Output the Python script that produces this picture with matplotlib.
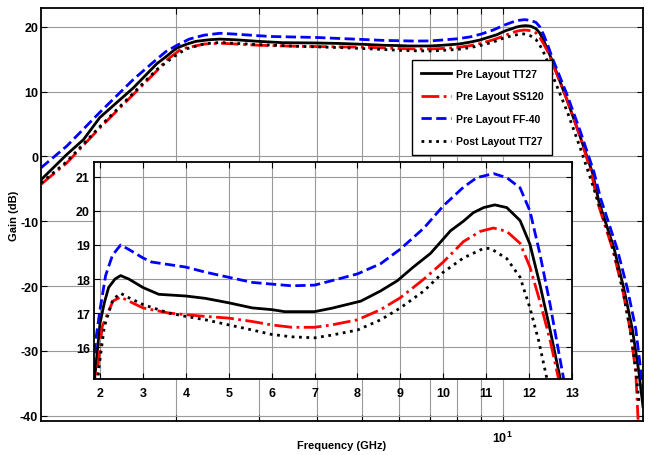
import matplotlib
matplotlib.use('Agg')
import matplotlib.pyplot as plt
from matplotlib.ticker import FixedLocator, NullFormatter

plt.rcParams['font.family'] = ['Liberation Sans Narrow', 'Liberation Sans', 'DejaVu Sans']
plt.rcParams['font.weight'] = 'bold'
plt.rcParams['mathtext.fontset'] = 'custom'
plt.rcParams['mathtext.rm'] = 'Liberation Sans:bold'
plt.rcParams['mathtext.bf'] = 'Liberation Sans:bold'

# ---------------- data (frequency in GHz, gain in dB) ----------------
labels = ['Pre Layout TT27', 'Pre Layout SS120', 'Pre Layout FF-40', 'Post Layout TT27']

f_tt27 = [1.025, 1.164, 1.264, 1.37, 1.618, 1.815, 1.9, 2.0, 2.1, 2.2, 2.35, 2.48, 2.67, 3.0,
          3.37, 4.0, 4.46, 5.0, 5.55, 6.0, 6.3, 7.0, 7.4, 8.08, 8.54, 8.93, 9.3, 9.7, 10.17,
          10.47, 10.7, 10.94, 11.2, 11.48, 11.79, 12.02, 12.25, 12.49, 12.72, 13.7, 14.6,
          15.6, 16.09, 17.34, 18.2, 18.97, 19.6, 20.0]
g_tt27 = [-3.6, 0.3, 2.6, 6.0, 10.6, 14.3, 15.4, 16.7, 17.3, 17.75, 18.0, 18.1, 18.0, 17.75,
          17.55, 17.5, 17.43, 17.3, 17.15, 17.1, 17.04, 17.04, 17.14, 17.35, 17.65, 17.95,
          18.35, 18.75, 19.42, 19.7, 19.95, 20.1, 20.18, 20.1, 19.72, 19.02, 17.85, 16.5,
          15.1, 9.0, 3.5, -2.6, -7.0, -14.2, -20.4, -26.6, -33.3, -38.6]

f_ss120 = [1.025, 1.164, 1.37, 1.618, 1.815, 1.9, 2.05, 2.3, 2.48, 2.67, 3.0, 3.6, 4.0, 4.46,
           5.0, 5.55, 6.0, 6.47, 7.0, 7.4, 8.0, 8.54, 9.0, 9.55, 10.0, 10.47, 10.86, 11.17,
           11.48, 11.79, 12.02, 12.25, 12.49, 12.68, 13.7, 14.6, 15.5, 15.97, 17.2, 18.07,
           18.76, 19.3, 19.52]
g_ss120 = [-4.3, -1.0, 4.4, 9.6, 13.2, 14.8, 16.6, 17.35, 17.47, 17.35, 17.15, 17.0, 16.95,
           16.9, 16.85, 16.75, 16.65, 16.58, 16.58, 16.65, 16.8, 17.1, 17.45, 18.0, 18.5,
           19.1, 19.4, 19.5, 19.4, 19.05, 18.35, 17.35, 16.2, 15.1, 9.0, 3.4, -2.5, -7.0,
           -14.2, -20.4, -26.6, -33.3, -40.6]

f_ff40 = [1.025, 1.164, 1.37, 1.618, 1.815, 1.9, 2.0, 2.13, 2.29, 2.48, 2.67, 3.0, 3.2, 4.0,
          4.46, 5.0, 5.55, 6.0, 6.47, 7.0, 7.4, 8.0, 8.54, 9.0, 9.55, 10.0, 10.47, 10.78,
          11.17, 11.48, 11.79, 12.02, 12.25, 12.49, 12.64, 12.8, 13.77, 14.69, 15.7, 16.23,
          17.6, 18.52, 19.3, 19.94, 20.0]
g_ff40 = [-1.75, 1.6, 6.8, 11.9, 15.0, 16.2, 17.1, 18.1, 18.7, 19.0, 18.87, 18.62, 18.5,
          18.35, 18.2, 18.05, 17.9, 17.85, 17.8, 17.82, 17.95, 18.15, 18.45, 18.88, 19.5,
          20.15, 20.7, 20.98, 21.1, 20.98, 20.68, 20.0, 18.75, 17.25, 16.2, 15.1, 9.4, 3.8,
          -2.4, -6.5, -14.2, -20.4, -26.6, -35.1, -36.0]

f_post = [1.025, 1.164, 1.37, 1.618, 1.815, 1.98, 2.1, 2.3, 2.48, 2.67, 3.0, 3.6, 4.0, 4.46,
          5.0, 5.55, 6.0, 6.47, 7.0, 7.4, 8.0, 8.54, 9.0, 9.55, 10.0, 10.47, 10.94, 11.1,
          11.48, 11.79, 12.02, 12.22, 12.41, 12.88, 13.77, 14.69, 15.7, 16.4, 17.3, 18.1,
          18.8, 19.35, 19.6]
g_post = [-4.1, -0.8, 4.6, 9.8, 13.4, 15.45, 16.6, 17.4, 17.58, 17.45, 17.25, 17.0, 16.9,
          16.8, 16.65, 16.5, 16.37, 16.3, 16.27, 16.35, 16.5, 16.8, 17.15, 17.65, 18.2,
          18.62, 18.9, 18.9, 18.6, 18.05, 17.15, 16.2, 15.1, 12.0, 6.85, 1.2, -5.0, -9.1,
          -14.5, -20.6, -27.0, -33.5, -38.0]

main_yticks = [-40, -30, -20, -10, 0, 10, 20]
inset_xticks = [2, 3, 4, 5, 6, 7, 8, 9, 10, 11, 12, 13]
inset_yticks = [16, 17, 18, 19, 20, 21]

series = [
    (f_tt27, g_tt27, labels[0], 'black', '-'),
    (f_ss120, g_ss120, labels[1], 'red', '-.'),
    (f_ff40, g_ff40, labels[2], 'blue', '--'),
    (f_post, g_post, labels[3], 'black', ':'),
]

# ---------------- figure ----------------
fig = plt.figure(figsize=(6.52, 4.56), dpi=100)
ax = fig.add_axes([0.0629, 0.0746, 0.9233, 0.9057])

for f, g, lab, c, ls in series:
    ax.plot(f, g, color=c, linestyle=ls, linewidth=2.0, label=lab)

ax.set_xscale('log')
ax.set_xlim(1.025, 20)
ax.set_ylim(-40.8, 22.9)
ax.set_yticks(main_yticks)
ax.set_yticklabels([str(v) for v in main_yticks])
ax.xaxis.set_major_locator(FixedLocator([10]))
ax.set_xticklabels([r'$\mathbf{10^{1}}$'])
ax.xaxis.set_minor_locator(FixedLocator([2, 3, 4, 5, 6, 7, 8, 9]))
ax.xaxis.set_minor_formatter(NullFormatter())
ax.grid(True, which='both', color='0.6', linewidth=0.8)
ax.tick_params(which='both', direction='in', top=True, right=True, length=4, width=0.8)
ax.tick_params(axis='y', labelsize=9, pad=2)
ax.tick_params(axis='x', labelsize=9, pad=6)
for s in ax.spines.values():
    s.set_linewidth(1.3)

ax.set_ylabel('Gain (dB)', fontsize=8, fontweight='bold')
ax.yaxis.set_label_coords(-0.036, 0.5)
ax.set_xlabel('Frequency (GHz)', fontsize=8, fontweight='bold')
ax.xaxis.set_label_coords(0.5, -0.045)

leg = ax.legend(loc='upper left', bbox_to_anchor=(412 / 652, 1 - 61 / 456),
                bbox_transform=fig.transFigure, fancybox=False, framealpha=1,
                edgecolor='black', fontsize=7.5, handlelength=2.9, labelspacing=1.2,
                borderpad=0.85, handletextpad=0.45, borderaxespad=0)
leg.get_frame().set_linewidth(1.0)

# ---------------- inset ----------------
ax2 = fig.add_axes([0.1442, 0.1667, 0.7331, 0.4758])
for f, g, lab, c, ls in series:
    ax2.plot(f, g, color=c, linestyle=ls, linewidth=2.0)
ax2.set_xlim(1.86, 13)
ax2.set_ylim(15.06, 21.44)
ax2.set_xticks(inset_xticks)
ax2.set_xticklabels([str(v) for v in inset_xticks])
ax2.set_yticks(inset_yticks)
ax2.set_yticklabels([str(v) for v in inset_yticks])
ax2.grid(True, color='0.6', linewidth=0.8)
ax2.tick_params(direction='in', top=True, right=True, length=4, width=0.8, labelsize=9)
ax2.tick_params(axis='y', pad=3)
ax2.tick_params(axis='x', pad=6)
for s in ax2.spines.values():
    s.set_linewidth(1.3)

fig.savefig('out.png', dpi=100, facecolor='white')
